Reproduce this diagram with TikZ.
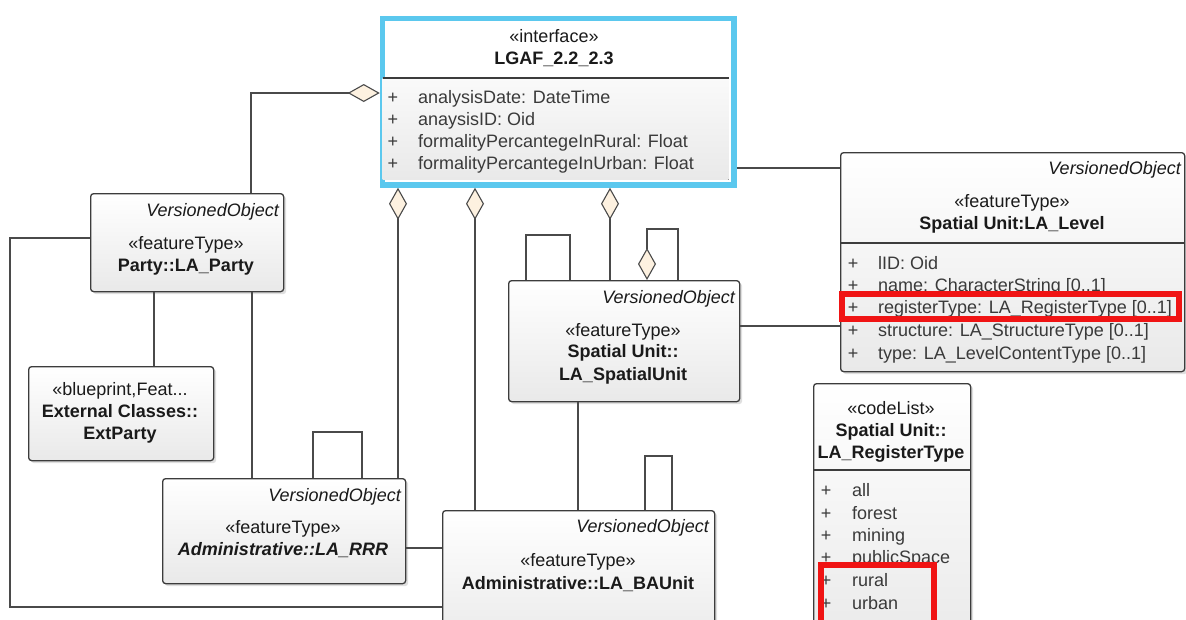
\documentclass[tikz,border=0pt]{standalone}
\usepackage{fontspec}
\setmainfont{Liberation Sans}
\usetikzlibrary{arrows.meta,shadows}
\definecolor{lgafblue}{HTML}{5BC8EE}
\definecolor{boxline}{HTML}{3C3C3C}
\definecolor{connc}{HTML}{4A4A4A}
\definecolor{boxbot}{HTML}{E9E9E9}
\definecolor{cream}{HTML}{FDF1E0}
\definecolor{txt}{HTML}{1A1A1A}
\definecolor{attrtxt}{HTML}{3A3A3A}
\definecolor{hl}{HTML}{F01414}
\begin{document}
\begin{tikzpicture}[x=1pt,y=-1pt,
  font=\fontsize{18}{21}\selectfont,
  umlbox/.style={draw=boxline,line width=1.3pt,rounded corners=3pt,top color=white,bottom color=boxbot,
    drop shadow={shadow xshift=2.5pt,shadow yshift=-2.5pt,opacity=0.25},anchor=north west,inner sep=0pt},
  lbl/.style={inner sep=0pt,text height=13pt,text depth=0pt,text=txt},
  ttl/.style={lbl,font=\fontsize{18}{21}\selectfont\bfseries},
  ttlit/.style={lbl,font=\fontsize{18}{21}\selectfont\bfseries\itshape},
  vo/.style={lbl,anchor=east,font=\fontsize{18}{21}\selectfont\itshape},
  attr/.style={lbl,anchor=west,text=attrtxt},
  plus/.style={lbl,text=attrtxt},
  conn/.style={draw=connc,line width=1.3pt},
  agg/.style={conn,-{Diamond[length=32pt,width=18pt,fill=cream,line width=1.1pt]}},
  sepline/.style={draw=boxline,line width=1.2pt},
  hlbox/.style={draw=hl,line width=6pt}
]
\useasboundingbox (0,0) rectangle (1186,619);
\clip (0,0) rectangle (1186,619);
\fill[white] (0,0) rectangle (1186,619);

% ---------- LGAF interface ----------
\node[draw=lgafblue,line width=5.5pt,fill=white,anchor=north west,minimum width=351.5pt,minimum height=166.5pt,inner sep=0pt,
  drop shadow={shadow xshift=2.5pt,shadow yshift=-2.5pt,opacity=0.2}] (lgaf) at (379.75,15.75) {};
\fill[top color=white!96!gray,bottom color=boxbot] (382.5,78) rectangle (728.5,179.5);
\draw[sepline] (382.5,78) -- (728.5,78);
\node[lbl] (lgafst) at (554,36) {«interface»};
\node[ttl] (lgaft) at (554,58) {LGAF\_2.2\_2.3};
\node[plus] (lgp1) at (393,97) {+};
\node[plus] (lgp2) at (393,119) {+};
\node[plus] (lgp3) at (393,141) {+};
\node[plus] (lgp4) at (393,163) {+};
\node[attr] (lga1) at (418,97) {analysisDate: DateTime};
\node[attr] (lga2) at (418,119) {anaysisID: Oid};
\node[attr] (lga3) at (418,141) {formalityPercantegeInRural: Float};
\node[attr] (lga4) at (418,163) {formalityPercantegeInUrban: Float};

% ---------- LA_Level ----------
\node[umlbox,minimum width=344pt,minimum height=219pt] (level) at (840,152) {};
\node[vo] (levelvo) at (1181,168) {VersionedObject};
\node[lbl] (levelst) at (1012,201) {«featureType»};
\node[ttl] (levelt) at (1012,223) {Spatial Unit:LA\_Level};
\draw[sepline] (level.west |- 0,243) -- (level.east |- 0,243);
\foreach \i/\y/\t in {1/263/{lID: Oid},2/285/{name: CharacterString [0..1]},3/307/{registerType: LA\_RegisterType [0..1]},4/330/{structure: LA\_StructureType [0..1]},5/353/{type: LA\_LevelContentType [0..1]}}{
  \node[plus] (lvp\i) at (853,\y) {+};
  \node[attr] (lva\i) at (878,\y) {\t};
}

% ---------- Party ----------
\node[umlbox,minimum width=193pt,minimum height=98pt] (party) at (90,193) {};
\node[vo] (partyvo) at (279,210) {VersionedObject};
\node[lbl] (partyst) at (186,243) {«featureType»};
\node[ttl] (partyt) at (186,265) {Party::LA\_Party};

% ---------- ExtParty ----------
\node[umlbox,minimum width=185pt,minimum height=94pt] (ext) at (28,366) {};
\node[lbl] (extst) at (120,389) {«blueprint,Feat...};
\node[ttl] (extt1) at (120,411) {External Classes::};
\node[ttl] (extt2) at (120,433) {ExtParty};

% ---------- RRR ----------
\node[umlbox,minimum width=243pt,minimum height=105pt] (rrr) at (162,478) {};
\node[vo] (rrrvo) at (401,495) {VersionedObject};
\node[lbl] (rrrst) at (283,527) {«featureType»};
\node[ttlit] (rrrt) at (283,549) {Administrative::LA\_RRR};

% ---------- SpatialUnit ----------
\node[umlbox,minimum width=231pt,minimum height=121pt] (su) at (508,280) {};
\node[vo] (suvo) at (735,297) {VersionedObject};
\node[lbl] (sust) at (623,330) {«featureType»};
\node[ttl] (sut1) at (623,351) {Spatial Unit::};
\node[ttl] (sut2) at (623,374) {LA\_SpatialUnit};

% ---------- BAUnit ----------
\node[umlbox,minimum width=272pt,minimum height=140pt] (ba) at (442,510) {};
\node[vo] (bavo) at (709,526) {VersionedObject};
\node[lbl] (bast) at (578,560) {«featureType»};
\node[ttl] (bat) at (578,583) {Administrative::LA\_BAUnit};

% ---------- RegisterType ----------
\node[umlbox,minimum width=157pt,minimum height=270pt] (reg) at (813,383) {};
\node[lbl] (regst) at (891,408) {«codeList»};
\node[ttl] (regt1) at (891,430) {Spatial Unit::};
\node[ttl] (regt2) at (891,452) {LA\_RegisterType};
\draw[sepline] (reg.west |- 0,470) -- (reg.east |- 0,470);
\foreach \i/\y/\t in {1/490/all,2/513/forest,3/535/mining,4/557/publicSpace,5/580/rural,6/603/urban}{
  \node[plus] (rgp\i) at (826,\y) {+};
  \node[attr] (rga\i) at (852,\y) {\t};
}

% ---------- connectors ----------
\draw[conn] (lgaf.east |- 0,168) -- (level.west |- 0,168);
\draw[agg] (251,0 |- party.north) |- (lgaf.west |- 0,93);
\draw[agg] (398,0 |- rrr.north) -- (398,0 |- lgaf.south);
\draw[agg] (475,0 |- ba.north) -- (475,0 |- lgaf.south);
\draw[agg] (610,0 |- su.north) -- (610,0 |- lgaf.south);
\draw[conn] (526,0 |- su.north) |- (570,235) -- (570,0 |- su.north);
\draw[agg] (678,0 |- su.north) |- (647,229) -- (647,0 |- su.north);
\draw[conn] (313,0 |- rrr.north) |- (362,432) -- (362,0 |- rrr.north);
\draw[conn] (645,0 |- ba.north) |- (672,456) -- (672,0 |- ba.north);
\draw[conn] (154,0 |- party.south) -- (154,0 |- ext.north);
\draw[conn] (252,0 |- party.south) -- (252,0 |- rrr.north);
\draw[conn] (party.west |- 0,238) -| (10,607) -- (ba.west |- 0,607);
\draw[conn] (rrr.east |- 0,548) -- (ba.west |- 0,548);
\draw[conn] (578,0 |- su.south) -- (578,0 |- ba.north);
\draw[conn] (su.east |- 0,326) -- (level.west |- 0,326);

% ---------- highlights ----------
\draw[hlbox] (842,294) rectangle (1179,319);
\draw[hlbox] (821,565) rectangle (934,640);
\end{tikzpicture}
\end{document}
